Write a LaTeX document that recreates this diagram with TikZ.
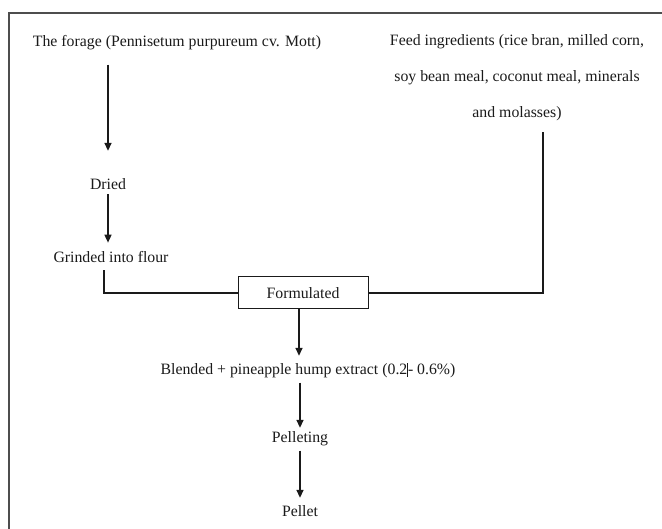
\documentclass[tikz,border=0pt]{standalone}
\usepackage{fontspec}
\setmainfont{Liberation Serif}
\usetikzlibrary{arrows.meta,positioning,calc}
\definecolor{ink}{HTML}{1A1A1A}
\definecolor{framegray}{HTML}{4D4D4D}
\tikzset{
  stage/.style={
    font=\fontsize{15.8}{19}\selectfont, text=ink,
    inner sep=4pt, anchor=base
  },
  procbox/.style={
    rectangle, draw=ink, line width=1pt,
    font=\fontsize{15.8}{19}\selectfont, text=ink,
    minimum width=130pt, minimum height=32pt, inner sep=0pt
  },
  arr/.style={-{Triangle[length=8pt,width=7pt]}, line width=1.5pt, draw=ink},
  joinline/.style={line width=1.5pt, draw=ink},
}

\begin{document}
\begin{tikzpicture}[x=1pt, y=-1pt]

  \useasboundingbox (0,0) rectangle (662,529);
  \draw[framegray, line width=1.2pt] (9,529) -- (9,13) -- (662,13);

  \node[stage] (forage) at (177,47) {The forage (Pennisetum purpureum cv. Mott)};

  \node[stage, anchor=north, align=center,
        font=\fontsize{15.8}{36}\selectfont]
    (feed) at (517,30) {Feed ingredients (rice bran, milled corn,\\
      soy bean meal, coconut meal, minerals\\
      and molasses)};

  \node[stage] (dried) at (108,190) {Dried};
  \node[stage] (grind) at (111,263) {Grinded into flour};

  \node[procbox] (form) at (303,293) {Formulated};

  \node[stage] (blend) at (308,375)
    {Blended + pineapple hump extract (0.2\rule[-2pt]{0.7pt}{14pt}- 0.6\%)};
  \node[stage] (pelleting) at (300,443) {Pelleting};
  \node[stage] (pellet) at (300,516) {Pellet};

  % Arrows
  \draw[arr, shorten <=10pt, shorten >=24pt] (forage.south -| dried.north) -- (dried.north);
  \draw[arr, shorten >=5pt] (dried.south) -- (dried.south |- grind.north);
  \draw[joinline, shorten <=3pt] ([xshift=-7pt]grind.south) |- (form.west);
  \draw[joinline, shorten >=7pt] (form.east) -| ([xshift=26pt]feed.south);
  \draw[arr, shorten >=3pt] ([xshift=-4pt]form.south) -- ([xshift=-4pt]form.south |- blend.north);
  \draw[arr] (pelleting.north |- blend.south) -- (pelleting.north);
  \draw[arr, shorten >=3pt] (pelleting.south) -- (pellet.north);

\end{tikzpicture}
\end{document}
